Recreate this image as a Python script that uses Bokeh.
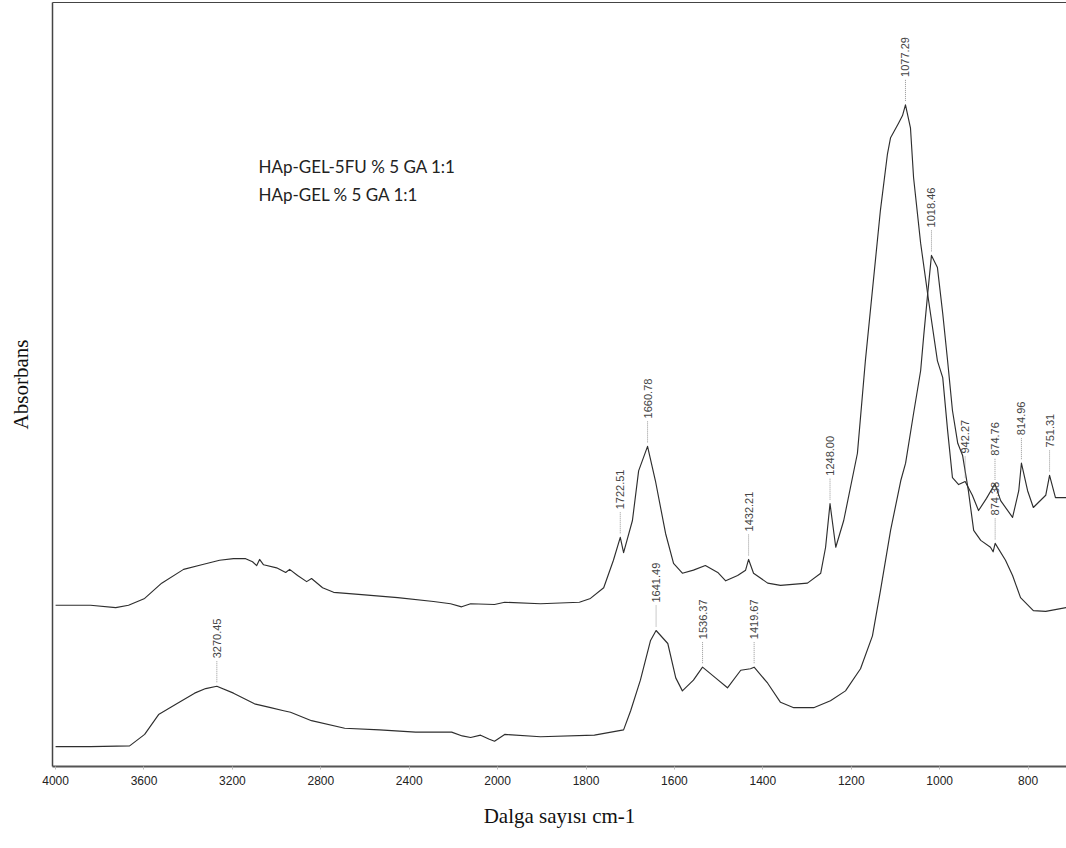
import numpy as np
from bokeh.plotting import figure
from bokeh.models import Range1d, FixedTicker, LinearAxis, ColumnDataSource
from bokeh.core.properties import value
from bokeh.embed import file_html
from bokeh.resources import INLINE

# ---------------- data ----------------
# HAp-GEL-5FU % 5 GA 1:1 (upper trace)
wn_5fu = [4000, 3842, 3728, 3670, 3597, 3520, 3421, 3339, 3258, 3195, 3140, 3109, 3090, 3077,
          3059, 3000, 2959, 2941, 2905, 2864, 2842, 2792, 2742, 2615, 2452, 2290, 2213, 2163,
          2122, 2014, 1984, 1903, 1815, 1790, 1760, 1738, 1722.5, 1715, 1695, 1681, 1660.8,
          1643, 1620, 1602, 1582, 1557, 1530, 1502, 1484, 1457, 1439, 1432.2, 1421, 1389, 1360,
          1299, 1269, 1258, 1248, 1235, 1217, 1186, 1168, 1134, 1118, 1111, 1093, 1084, 1077.3,
          1066, 1059, 1043, 1025, 1005, 993, 982, 971, 957, 942.3, 926, 912, 894, 874.8, 862,
          835, 821, 815, 801, 788, 760, 751.3, 738, 713]
abs_5fu = [0.211, 0.211, 0.208, 0.211, 0.220, 0.240, 0.258, 0.264, 0.270, 0.272, 0.272, 0.268,
           0.263, 0.271, 0.264, 0.260, 0.254, 0.258, 0.250, 0.242, 0.246, 0.234, 0.228, 0.225,
           0.221, 0.216, 0.213, 0.209, 0.213, 0.212, 0.215, 0.213, 0.215, 0.220, 0.234, 0.270,
           0.300, 0.280, 0.322, 0.387, 0.419, 0.374, 0.305, 0.266, 0.253, 0.257, 0.263, 0.254,
           0.243, 0.250, 0.257, 0.271, 0.253, 0.240, 0.237, 0.240, 0.253, 0.287, 0.344, 0.287,
           0.322, 0.410, 0.531, 0.728, 0.802, 0.823, 0.842, 0.852, 0.866, 0.836, 0.771, 0.685,
           0.610, 0.531, 0.509, 0.440, 0.378, 0.369, 0.373, 0.355, 0.335, 0.351, 0.370, 0.348,
           0.326, 0.361, 0.397, 0.361, 0.339, 0.355, 0.381, 0.352, 0.352]

# HAp-GEL % 5 GA 1:1 (lower trace)
wn_gel = [4000, 3842, 3665, 3597, 3534, 3452, 3371, 3321, 3270.5, 3195, 3100, 3027, 2968, 2937,
          2842, 2692, 2534, 2371, 2208, 2160, 2122, 2077, 2040, 2014, 1984, 1903, 1781, 1715,
          1699, 1677, 1654, 1641.5, 1615, 1597, 1582, 1557, 1536.4, 1507, 1480, 1450, 1428,
          1419.7, 1389, 1360, 1330, 1285, 1247, 1213, 1179, 1152, 1134, 1111, 1088, 1077, 1059,
          1043, 1036, 1027, 1018.5, 1005, 993, 982, 971, 959, 948, 935, 923, 907, 885, 879,
          874.4, 851, 835, 817, 788, 760, 713]
abs_gel = [0.026, 0.026, 0.027, 0.042, 0.068, 0.082, 0.096, 0.102, 0.105, 0.096, 0.082, 0.077,
           0.073, 0.071, 0.060, 0.050, 0.048, 0.045, 0.045, 0.040, 0.038, 0.041, 0.036, 0.033,
           0.042, 0.039, 0.041, 0.048, 0.073, 0.113, 0.165, 0.178, 0.161, 0.116, 0.099, 0.113,
           0.130, 0.116, 0.103, 0.126, 0.128, 0.130, 0.109, 0.084, 0.077, 0.077, 0.086, 0.099,
           0.128, 0.171, 0.230, 0.309, 0.374, 0.397, 0.462, 0.518, 0.564, 0.619, 0.669, 0.653,
           0.593, 0.531, 0.466, 0.423, 0.407, 0.361, 0.309, 0.296, 0.287, 0.281, 0.292, 0.270,
           0.250, 0.221, 0.204, 0.203, 0.208]

# peak annotations
peak_wn = [1722.51, 1660.78, 1432.21, 1248.00, 1077.29, 942.27, 874.76, 814.96, 751.31,
           3270.45, 1641.49, 1536.37, 1419.67, 1018.46, 874.38]
peak_abs = [0.300, 0.419, 0.271, 0.344, 0.866, 0.373, 0.370, 0.397, 0.381,
            0.105, 0.178, 0.130, 0.130, 0.669, 0.292]

tick_wn = [4000, 3600, 3200, 2800, 2400, 2000, 1800, 1600, 1400, 1200, 1000, 800]
series_names = ["HAp-GEL-5FU % 5 GA 1:1", "HAp-GEL % 5 GA 1:1"]


# FTIR display: scale expanded 2x below 2000 cm-1
def expand(w):
    w = np.asarray(w, dtype=float)
    return np.where(w >= 2000, 4000 - w, 2000 + 2 * (2000 - w))


W, H = 1066, 848
FRAME_H = 764
p = figure(width=W, height=H, output_backend="svg", toolbar_location=None,
           x_range=Range1d(float(expand(4014)), float(expand(713))),
           y_range=Range1d(0, 1.0),
           min_border_left=52, min_border_right=0, min_border_top=2, min_border_bottom=82,
           background_fill_color="white", border_fill_color="white")
p.outline_line_color = None
p.xgrid.visible = False
p.ygrid.visible = False

line_kw = dict(line_color="#2e2e2e", line_width=1.15, line_join="round")
p.line(x=expand(wn_5fu), y=abs_5fu, **line_kw)
p.line(x=expand(wn_gel), y=abs_gel, **line_kw)

# peak labels with dotted leaders
px = 1.0 / FRAME_H
pk = ColumnDataSource(dict(
    x=expand(peak_wn),
    y0=np.asarray(peak_abs) + 4 * px,
    y1=np.asarray(peak_abs) + 26 * px,
    y=np.asarray(peak_abs),
    t=["%.2f" % v for v in peak_wn]))
p.segment(x0="x", y0="y0", x1="x", y1="y1", source=pk,
          line_color="#8a8a8a", line_width=0.9, line_dash="1 1")
p.text(x="x", y="y", text="t", source=pk, angle=np.pi / 2, y_offset=-28,
       text_align="left", text_baseline="middle",
       text_font=value("Liberation Sans Narrow, Liberation Sans"),
       text_font_size="11px", text_color="#444444")

# series names
p.text(x=[918, 918], y=[0.785, 0.749], text=series_names,
       text_align="left", text_baseline="middle",
       text_font=value("Lato"), text_font_size="17px", text_color="#222222")

# axes
xa = p.xaxis[0]
xa.ticker = FixedTicker(ticks=[float(v) for v in expand(tick_wn)])
xa.major_label_overrides = {float(u): str(t) for u, t in zip(expand(tick_wn), tick_wn)}
xa.major_label_text_font = "Liberation Sans Narrow, Liberation Sans"
xa.major_label_text_font_size = "12px"
xa.major_label_text_color = "#222222"
xa.major_tick_out = 3
xa.major_tick_in = 0
xa.major_tick_line_color = "#bbbbbb"
xa.minor_tick_line_color = None
xa.major_label_standoff = 6
xa.axis_line_color = "#555555"
xa.axis_line_width = 2
xa.axis_label = "Dalga sayısı cm-1"
xa.axis_label_text_font = "Liberation Serif"
xa.axis_label_text_font_style = "normal"
xa.axis_label_text_font_size = "21px"
xa.axis_label_text_color = "#111111"
xa.axis_label_standoff = 16

ya = p.yaxis[0]
ya.ticker = FixedTicker(ticks=[])
ya.major_tick_line_color = None
ya.minor_tick_line_color = None
ya.major_tick_out = 0
ya.major_label_standoff = 0
ya.axis_line_color = "#444444"
ya.axis_line_width = 1.5
ya.axis_label = "Absorbans"
ya.axis_label_text_font = "Liberation Serif"
ya.axis_label_text_font_style = "normal"
ya.axis_label_text_font_size = "21px"
ya.axis_label_text_color = "#111111"
ya.axis_label_standoff = 20

top = LinearAxis(ticker=FixedTicker(ticks=[]), major_tick_line_color=None,
                 minor_tick_line_color=None, major_tick_out=0, minor_tick_out=0,
                 major_label_standoff=0, axis_line_color="#444444", axis_line_width=1.2)
p.add_layout(top, "above")

open("out.html", "w").write(file_html(p, INLINE))
